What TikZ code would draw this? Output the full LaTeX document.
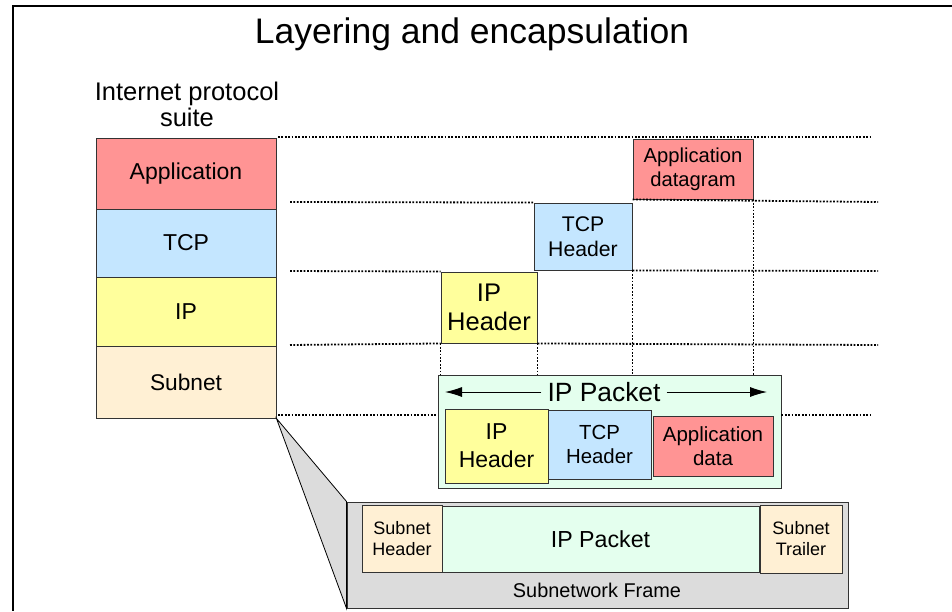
\documentclass[tikz,border=0pt]{standalone}
\usepackage{fontspec}
\setmainfont{Liberation Sans}
\usetikzlibrary{arrows.meta}
\definecolor{appred}{HTML}{FF9494}
\definecolor{tcpblue}{HTML}{C4E6FF}
\definecolor{ipyel}{HTML}{FFFF9C}
\definecolor{subbeige}{HTML}{FFF0D4}
\definecolor{pktgreen}{HTML}{E4FFEE}
\definecolor{framegray}{HTML}{DCDCDC}
\newcommand{\fsz}[1]{\fontsize{#1pt}{#1pt}\selectfont}
\tikzset{
  box/.style={draw=black!80, line width=0.9pt, inner sep=0pt, align=center, rectangle},
  guide/.style={line width=1.8pt, dash pattern=on 1.8pt off 1.6pt},
  lbl/.style={inner sep=0pt, align=center}
}
\begin{document}
\begin{tikzpicture}[x=1pt,y=-1pt]
\useasboundingbox (0,0) rectangle (952,611);
% outer frame
\draw[line width=2.6pt] (952,6) -- (13,6) -- (13,611);
\node[lbl, font=\fsz{35.5}] (title) at (472,34) {Layering and encapsulation};
\node[lbl, align=center, font=\fontsize{25.5pt}{26pt}\selectfont] (suite) at (187,104) {Internet protocol\\suite};

% protocol stack
\node[box, fill=appred, minimum width=180pt, minimum height=71pt, font=\fsz{23}] (app) at (186,173.5) {Application};
\node[box, fill=tcpblue, minimum width=180pt, minimum height=68pt, font=\fsz{23}] (tcp) at (186,243) {TCP};
\node[box, fill=ipyel, minimum width=180pt, minimum height=69pt, font=\fsz{23}] (ip) at (186,311.5) {IP};
\node[box, fill=subbeige, minimum width=180pt, minimum height=72pt, font=\fsz{22.7}] (sub) at (186,382) {Subnet};

% staircase
\node[box, fill=appred, minimum width=120pt, minimum height=60pt, font=\fontsize{20.2pt}{24pt}\selectfont] (appd) at (693,169) {Application\\datagram};
\node[box, fill=tcpblue, minimum width=98pt, minimum height=67pt, font=\fontsize{21.2pt}{25pt}\selectfont] (tcph) at (583,236.5) {TCP\\Header};
\node[box, fill=ipyel, minimum width=96pt, minimum height=71pt, font=\fontsize{25.5pt}{29pt}\selectfont] (iph) at (489,307.5) {IP\\Header};

% IP packet
\node[box, fill=pktgreen, minimum width=343pt, minimum height=113pt] (pkt) at (609.5,431.5) {};
\node[lbl, fill=pktgreen, inner xsep=6pt, font=\fsz{26.4}] (pktlbl) at (604,392) {IP Packet};
\coordinate (pl) at (445,392);
\coordinate (pr) at (767,392);
\draw[line width=0.9pt, -{Latex[length=17pt,width=10pt]}] (pktlbl.west) -- (pl);
\draw[line width=0.9pt, -{Latex[length=17pt,width=10pt]}] (pktlbl.east) -- (pr);
\node[box, fill=ipyel, minimum width=103pt, minimum height=74pt, font=\fontsize{23pt}{28pt}\selectfont] (iph2) at (496.5,446) {IP\\Header};
\node[box, fill=tcpblue, minimum width=103pt, minimum height=69pt, font=\fontsize{20.4pt}{24pt}\selectfont] (tcph2) at (599.5,444.5) {TCP\\Header};
\node[box, fill=appred, minimum width=120pt, minimum height=60pt, font=\fontsize{20.5pt}{24pt}\selectfont] (appdata) at (713,446) {Application\\data};

% dotted guides
\coordinate (g1a) at (278,137); \coordinate (g1b) at (872,137);
\coordinate (g2a) at (290,202); \coordinate (g2b) at (878,202);
\coordinate (g3a) at (290,271); \coordinate (g3b) at (878,271);
\coordinate (g4a) at (290,345); \coordinate (g4b) at (878,345);
\coordinate (g5a) at (278,415); \coordinate (g5b) at (870,415);
\draw[guide] (g1a) -- (g1b);
\draw[guide] (g2a) -- (tcph.north west);
\draw[guide] (appd.south west) -- (g2b);
\draw[guide] (g3a) -- (iph.north west);
\draw[guide] (tcph.south east) -- (g3b);
\draw[guide] (g4a) -- (iph.south west);
\draw[guide] (iph.south east) -- (g4b);
\draw[guide] (g5a) -- (g5a -| pkt.west);
\draw[guide] (g5b -| pkt.east) -- (g5b);
\draw[guide] (iph.south west) -- (iph.south west |- pkt.north);
\draw[guide] (iph.south east) -- (iph.south east |- pkt.north);
\draw[guide] (tcph.south east) -- (tcph.south east |- pkt.north);
\draw[guide] (appd.south east) -- (appd.south east |- pkt.north);

% subnetwork frame
\node[box, fill=framegray, minimum width=501pt, minimum height=106pt] (frame) at (597.5,555) {};
\draw[line width=0.8pt, fill=framegray] (sub.south east) -- (frame.north west) -- (frame.south west) -- cycle;
\node[box, fill=subbeige, minimum width=80pt, minimum height=67pt, font=\fontsize{18pt}{21pt}\selectfont] (shdr) at (402,538.5) {Subnet\\Header};
\node[box, fill=pktgreen, minimum width=317pt, minimum height=66pt, font=\fsz{23.2}] (ippk) at (600.5,539) {IP Packet};
\node[box, fill=subbeige, minimum width=82pt, minimum height=68pt, font=\fontsize{18pt}{21pt}\selectfont] (strl) at (801,539) {Subnet\\Trailer};
\node[lbl, font=\fsz{19.9}] (sfl) at (597,590) {Subnetwork Frame};
\end{tikzpicture}
\end{document}
